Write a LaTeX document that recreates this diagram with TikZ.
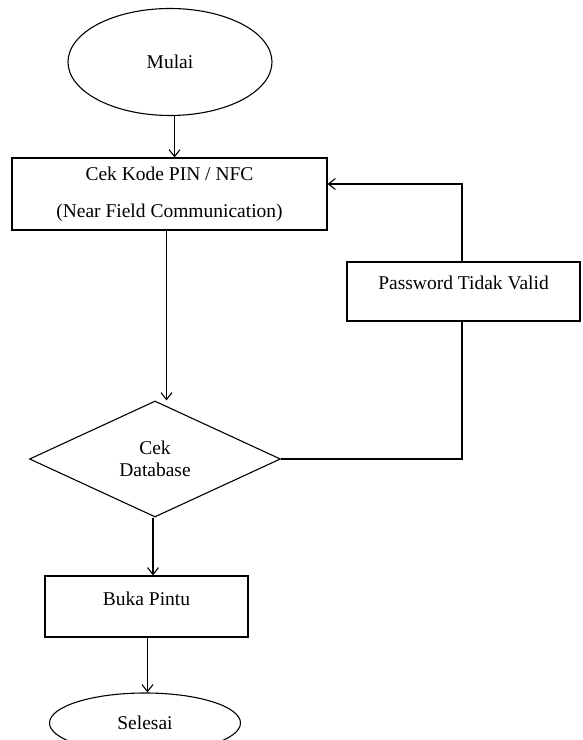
\documentclass[tikz,border=0pt]{standalone}
\usepackage{fontspec}
\setmainfont{Liberation Serif}
\usetikzlibrary{shapes.geometric,arrows.meta}
\begin{document}
\begin{tikzpicture}[x=1pt,y=1pt,
  every node/.style={font=\fontsize{19.5}{22}\selectfont, line width=1.1pt},
  box/.style={draw, rectangle, inner sep=0pt},
  term/.style={draw, ellipse, inner sep=0pt},
  decide/.style={draw, diamond, inner sep=0pt, aspect=2.16},
  flow/.style={line width=1.1pt, -{Straight Barb[length=7pt,width=11pt,line width=1.1pt]}},
  plain/.style={line width=1.1pt}]
\useasboundingbox (0,0) rectangle (582,740);
\fill[white] (0,0) rectangle (582,740);
\node[term, minimum width=204pt, minimum height=107pt] (mulai) at (170,678) {Mulai};
\node[box, minimum width=315pt, minimum height=72pt, align=center] (cek) at (169.5,546)
  {Cek Kode PIN / NFC\\[15pt](Near Field Communication)};
\node[decide, minimum width=251pt, minimum height=116pt, align=center] (dia) at (155,281)
  {Cek\\Database};
\node[box, minimum width=233pt, minimum height=59pt, text depth=18pt] (pw) at (463.5,448.5)
  {Password Tidak Valid};
\node[box, minimum width=203pt, minimum height=61pt, text depth=15pt] (buka) at (146.5,133.5)
  {Buka Pintu};
\node[term, minimum width=191pt, minimum height=60pt] (selesai) at (145,17) {Selesai};
\coordinate (a1) at ([xshift=4.5pt]mulai.south);
\draw[flow] (a1) -- (a1 |- cek.north);
\coordinate (a2) at ([xshift=-3pt]cek.south);
\draw[flow] (a2) -- (a2 |- dia.north);
\coordinate (a3) at ([xshift=-2pt]dia.south);
\draw[flow] (a3) -- (a3 |- buka.north);
\coordinate (a5) at ([xshift=1pt]buka.south);
\draw[flow] (a5) -- (a5 |- selesai.north);
\draw[plain] (dia.east) -| ([xshift=-1.5pt]pw.south);
\coordinate (a4) at ([xshift=-1.5pt]pw.north);
\draw[flow] (a4) |- ([yshift=10pt]cek.east);
\end{tikzpicture}
\end{document}
